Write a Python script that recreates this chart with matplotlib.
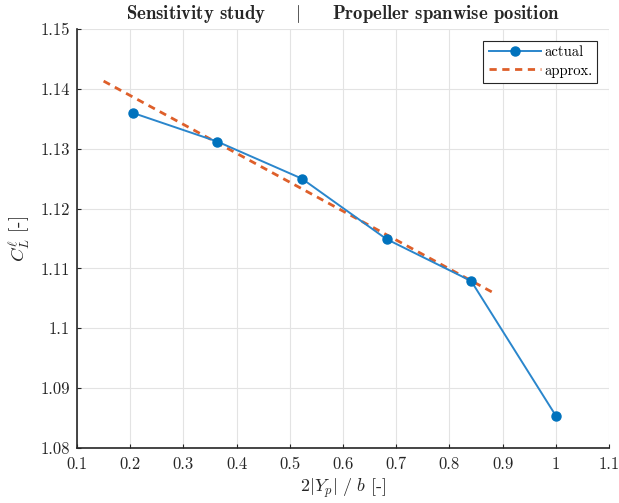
import matplotlib
matplotlib.use("Agg")
import matplotlib.pyplot as plt
import numpy as np

# Data
span_pos = [0.2045, 0.3636, 0.5227, 0.6818, 0.8409, 1.0]
cl_actual = [1.1360, 1.1312, 1.1250, 1.1149, 1.1079, 1.0854]
approx_x = [0.15, 0.8875]
approx_y = [1.1413, 1.1057]
xticks = [0.1, 0.2, 0.3, 0.4, 0.5, 0.6, 0.7, 0.8, 0.9, 1.0, 1.1]
xticklabels = ["0.1", "0.2", "0.3", "0.4", "0.5", "0.6", "0.7", "0.8", "0.9", "1", "1.1"]
yticks = [1.08, 1.09, 1.10, 1.11, 1.12, 1.13, 1.14, 1.15]
yticklabels = ["1.08", "1.09", "1.1", "1.11", "1.12", "1.13", "1.14", "1.15"]

plt.rcParams['font.family'] = 'serif'
plt.rcParams['font.serif'] = ['cmr10']
plt.rcParams['mathtext.fontset'] = 'cm'
plt.rcParams['axes.formatter.use_mathtext'] = True

W, H = 619, 503
fig = plt.figure(figsize=(W/100, H/100), dpi=100)
ax = fig.add_axes([77/W, 1-448/H, (609-77)/W, (448-29)/H])

ax.plot(span_pos, cl_actual, '-o', color='#2a86cc', lw=1.4, ms=6.5,
        markerfacecolor='#0072BD', markeredgecolor='#0072BD', label='actual', zorder=3)
ax.plot(approx_x, approx_y, '--', color='#DE5F2A', lw=2.0, dashes=(2.6, 2.0), label='approx.', zorder=2)

ax.set_xlim(0.1, 1.1)
ax.set_ylim(1.08, 1.15)
ax.set_xticks(xticks)
ax.set_xticklabels(xticklabels)
ax.set_yticks(yticks)
ax.set_yticklabels(yticklabels)
ax.tick_params(direction='in', length=3, width=0.8, labelsize=12, colors='#262626')
ax.tick_params(axis='x', pad=6)
ax.tick_params(axis='y', pad=5)
ax.grid(True, color='#e3e3e3', lw=0.8)
ax.set_axisbelow(True)
for s in ['top', 'right']:
    ax.spines[s].set_visible(False)
for s in ['left', 'bottom']:
    ax.spines[s].set_color('#262626')
    ax.spines[s].set_linewidth(1.2)

ax.set_xlabel(r'$2|Y_p|\ /\ b$ [-]', fontsize=13, color='#262626', labelpad=4)
ax.set_ylabel(r'$C_L^{\ell}$ [-]', fontsize=13.5, color='#262626', labelpad=6)
fig.text(343/W, 1-19/H, r'Sensitivity study     $\mathbf{|}$     Propeller spanwise position',
         fontfamily='cmb10', fontsize=13.5, color='#262626', ha='center', va='baseline')

leg = ax.legend(loc='upper right', fontsize=10.5, frameon=True, fancybox=False,
                edgecolor='#262626', framealpha=1, borderpad=0.35, handlelength=3.6,
                handletextpad=0.2, borderaxespad=0.8, labelspacing=0.3)
leg.get_frame().set_linewidth(0.8)

fig.savefig('out.png', dpi=100)
